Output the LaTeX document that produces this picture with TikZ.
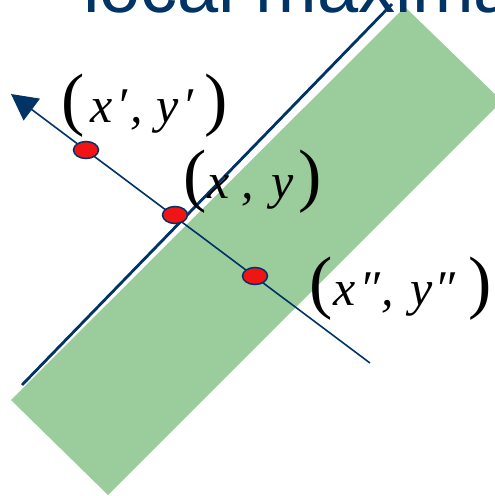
\documentclass[tikz,border=0pt]{standalone}
\usepackage{fontspec}
\setmainfont{Liberation Serif}
\newfontfamily\titlefont{Liberation Sans}
\usetikzlibrary{arrows.meta,shapes.geometric}

\definecolor{darknavy}{RGB}{0,51,102}
\definecolor{bandgreen}{RGB}{155,204,155}
\definecolor{ptred}{RGB}{240,20,20}

% ngoặc lớn và ký tự đặt tại vị trí cho trước
\newcommand{\bigpar}[1]{{\fontsize{70}{70}\selectfont\upshape #1}}
\newcommand{\glyphat}[2]{\rlap{\hspace*{#1}#2}}

\begin{document}
\begin{tikzpicture}[x=1pt, y=-1pt, >=latex,
    pt/.style={ellipse, draw=darknavy, line width=1.5pt, fill=ptred,
        minimum width=25pt, minimum height=17pt, inner sep=0pt},
    lbl/.style={anchor=base west, inner sep=0pt, font=\fontsize{50}{50}\selectfont\itshape}]
    \useasboundingbox (0,0) rectangle (495,496);
    \clip (0,0) rectangle (495,496);

    % 1. Dải màu xanh
    \fill[bandgreen] (11,400) -- (405,7) -- (502,101) -- (108,495) -- cycle;

    % 2. Đường biên
    \coordinate (E1) at (22,385);
    \coordinate (E2) at (392,4);
    \draw[darknavy, line width=2.8pt] (E1) -- (E2);

    % 3. Tiêu đề
    \node[anchor=base west, inner sep=0pt, text=darknavy,
        font=\titlefont\fontsize{74}{74}\selectfont] (title) at (83,12) {local maxima};

    % 4. Đường pháp tuyến
    \coordinate (tip) at (11,94);
    \coordinate (tail) at (370,363);
    \draw[darknavy, line width=1.6pt, -{Triangle[length=26pt, width=27pt]}] (tail) -- (tip);

    % 5. Các điểm
    \node[pt] (P1) at (86,150) {};
    \node[pt] (P0) at (175,215) {};
    \node[pt] (P2) at (255,276) {};

    % 6. Nhãn
    \node[lbl] (L1) at (61.5,122) {\glyphat{0pt}{\bigpar{(}}\glyphat{28.5pt}{x}%
        \glyphat{55pt}{′}\glyphat{69pt}{,}\glyphat{95pt}{y}\glyphat{121pt}{′}%
        \glyphat{143pt}{\bigpar{)}}\hspace*{166pt}};
    \node[lbl] (L0) at (183.5,198) {\glyphat{0pt}{\bigpar{(}}\glyphat{24pt}{x}%
        \glyphat{58pt}{,}\glyphat{87.5pt}{y}%
        \glyphat{114.5pt}{\bigpar{)}}\hspace*{137pt}};
    \node[lbl] (L2) at (309.5,305) {\glyphat{0pt}{\bigpar{(}}\glyphat{24pt}{x}%
        \glyphat{49.5pt}{″}\glyphat{72pt}{,}\glyphat{100.5pt}{y}\glyphat{124.5pt}{″}%
        \glyphat{158.5pt}{\bigpar{)}}\hspace*{181pt}};
\end{tikzpicture}
\end{document}
